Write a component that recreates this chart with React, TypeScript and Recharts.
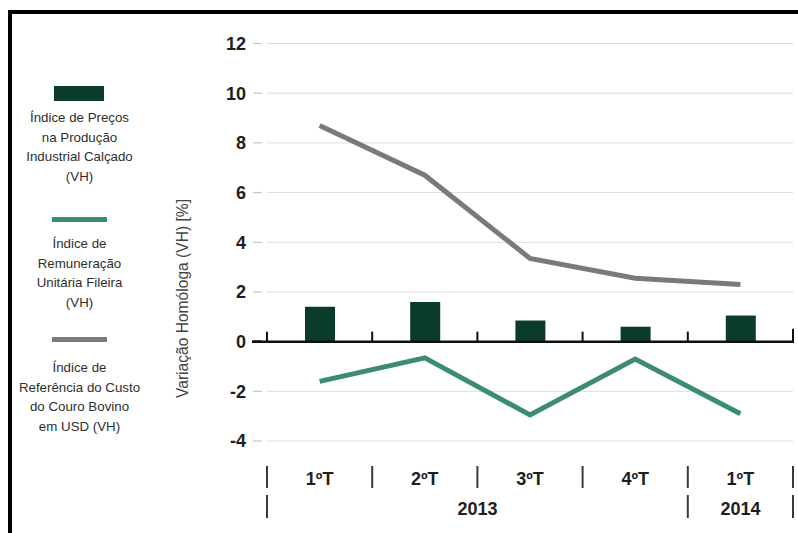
import React from 'react';
import {
  ComposedChart,
  Bar,
  Line,
  XAxis,
  YAxis,
  CartesianGrid,
  ReferenceLine,
  Legend,
  Label,
} from 'recharts';

// Quarterly year-on-year variation (%) — footwear sector indicators
const quarters = ['1ºT', '2ºT', '3ºT', '4ºT', '1ºT'];
const years = ['2013', '2013', '2013', '2013', '2014'];
const precosProducao = [1.4, 1.6, 0.85, 0.6, 1.05];
const remuneracaoFileira = [-1.6, -0.65, -2.95, -0.7, -2.9];
const custoCouro = [8.7, 6.7, 3.35, 2.55, 2.3];
const yTicks = [-4, -2, 0, 2, 4, 6, 8, 10, 12];

const legendPrecos = ['Índice de Preços', 'na Produção', 'Industrial Calçado', '(VH)'];
const legendRemuneracao = ['Índice de', 'Remuneração', 'Unitária Fileira', '(VH)'];
const legendCouro = ['Índice de', 'Referência do Custo', 'do Couro Bovino', 'em USD (VH)'];
const yTitle = 'Variação Homóloga (VH) [%]';

const data = quarters.map((q, i) => ({
  key: `${years[i]}-${i}`,
  quarter: q,
  year: years[i],
  precos: precosProducao[i],
  remuneracao: remuneracaoFileira[i],
  couro: custoCouro[i],
}));

const W = 798;
const H = 533;
const MARGIN = { top: 43.5, right: 5, bottom: 0, left: 207 };
const Y_AXIS_W = 60;
const PLOT_W = W - MARGIN.left - MARGIN.right - Y_AXIS_W;
const BAND = PLOT_W / data.length;

const FONT = '"Liberation Sans", Arial, Helvetica, sans-serif';
const BAR_COLOR = '#0b3c2b';
const GREEN = '#3d8b72';
const GREY = '#7a7a7a';
const INK = '#1e1e1e';
const SEP = '#3a3a3a';

const ValueTick = (props: any) => {
  const { x, y, payload } = props;
  const zero = payload.value === 0;
  return (
    <g>
      <line
        x1={x - 14}
        x2={x - 5}
        y1={y}
        y2={y}
        stroke={zero ? '#111' : '#c4c4c4'}
        strokeWidth={zero ? 2.5 : 1.2}
      />
      <text
        x={x - 21}
        y={y}
        dy="0.36em"
        textAnchor="end"
        fontFamily={FONT}
        fontSize={18}
        fontWeight="bold"
        fill={INK}
      >
        {payload.value}
      </text>
    </g>
  );
};

const QuarterTick = (props: any) => {
  const { x, y, index } = props;
  const left = x - BAND / 2;
  const last = index === data.length - 1;
  return (
    <g>
      <line x1={left} x2={left} y1={y + 25} y2={y + 47} stroke={SEP} strokeWidth={2} />
      {last && (
        <line x1={left + BAND} x2={left + BAND} y1={y + 25} y2={y + 47} stroke={SEP} strokeWidth={2} />
      )}
      <text
        x={x}
        y={y + 44}
        textAnchor="middle"
        fontFamily={FONT}
        fontSize={18}
        fontWeight="bold"
        fill={INK}
      >
        {data[index].quarter}
      </text>
    </g>
  );
};

const YearTick = (props: any) => {
  const { x, y, index } = props;
  const yr = data[index].year;
  const first = index === 0 || data[index - 1].year !== yr;
  const last = index === data.length - 1;
  const left = x - BAND / 2;
  let span = 0;
  for (let i = index; i < data.length && data[i].year === yr; i++) span++;
  return (
    <g>
      {first && <line x1={left} x2={left} y1={y + 2} y2={y + 25} stroke={SEP} strokeWidth={2} />}
      {last && (
        <line x1={left + BAND} x2={left + BAND} y1={y + 2} y2={y + 25} stroke={SEP} strokeWidth={2} />
      )}
      {first && (
        <text
          x={left + (span * BAND) / 2}
          y={y + 22}
          textAnchor="middle"
          fontFamily={FONT}
          fontSize={18}
          fontWeight="bold"
          fill={INK}
        >
          {yr}
        </text>
      )}
    </g>
  );
};

// zero baseline with small upward ticks at each quarter boundary
const ZeroBaseline = (props: any) => {
  const x1 = Number(props.x1);
  const x2 = Number(props.x2);
  const y = Number(props.y1);
  const n = data.length;
  const bw = (x2 - x1) / n;
  const marks = [];
  for (let i = 0; i <= n; i++) {
    const xi = x1 + i * bw;
    marks.push(
      <line key={i} x1={xi} x2={xi} y1={y} y2={y - (i === n ? 13 : 10)} stroke="#111" strokeWidth={2} />
    );
  }
  return (
    <g>
      <line x1={x1 - 15} x2={x2 + 1} y1={y} y2={y} stroke="#111" strokeWidth={2.5} />
      {marks}
    </g>
  );
};

const AxisTitle = (props: any) => {
  const vb = props.viewBox;
  const cx = vb.x - 24;
  const cy = vb.y + 255;
  return (
    <text
      x={cx}
      y={cy}
      dy="0.35em"
      textAnchor="middle"
      transform={`rotate(-90, ${cx}, ${cy})`}
      fontFamily={FONT}
      fontSize={15.6}
      fill="#444"
    >
      {yTitle}
    </text>
  );
};

const legendItems = [
  { lines: legendPrecos, color: BAR_COLOR, swatch: { left: 54, top: 86, width: 50, height: 15 }, textTop: 108 },
  { lines: legendRemuneracao, color: GREEN, swatch: { left: 52, top: 217, width: 55, height: 4.5 }, textTop: 234 },
  { lines: legendCouro, color: GREY, swatch: { left: 52, top: 337, width: 55, height: 4.5 }, textTop: 358 },
];

const LegendPanel = () => (
  <div style={{ position: 'relative', width: 160, height: 440, fontFamily: FONT }}>
    {legendItems.map((it, i) => (
      <React.Fragment key={i}>
        <div style={{ position: 'absolute', background: it.color, ...it.swatch }} />
        <div
          style={{
            position: 'absolute',
            left: 0,
            top: it.textTop,
            width: 159,
            textAlign: 'center',
            fontSize: 13.3,
            lineHeight: '19.5px',
            color: '#2e2e2e',
          }}
        >
          {it.lines.map((l, j) => (
            <div key={j}>{l}</div>
          ))}
        </div>
      </React.Fragment>
    ))}
  </div>
);

export default function App() {
  return (
    <div style={{ position: 'absolute', left: 0, top: 0, width: W, height: H, background: '#fff' }}>
      <div
        style={{
          position: 'absolute',
          left: 8,
          top: 10,
          width: W - 8,
          height: H - 10,
          borderTop: '4px solid #000',
          borderLeft: '4px solid #000',
          boxSizing: 'border-box',
        }}
      />
      <ComposedChart width={W} height={H} data={data} margin={MARGIN}>
        <CartesianGrid vertical={false} stroke="#dcdcdc" strokeWidth={1} />
        <XAxis
          xAxisId="q"
          dataKey="key"
          height={52}
          axisLine={false}
          tickLine={false}
          tickSize={0}
          tickMargin={0}
          interval={0}
          tick={<QuarterTick />}
        />
        <XAxis
          xAxisId="yr"
          dataKey="key"
          height={40}
          axisLine={false}
          tickLine={false}
          tickSize={0}
          tickMargin={0}
          interval={0}
          tick={<YearTick />}
        />
        <YAxis
          width={Y_AXIS_W}
          domain={[-4, 12]}
          ticks={yTicks}
          axisLine={false}
          tickLine={false}
          tickSize={0}
          tickMargin={0}
          interval={0}
          tick={<ValueTick />}
        >
          <Label content={<AxisTitle />} />
        </YAxis>
        <Bar xAxisId="q" dataKey="precos" fill={BAR_COLOR} barSize={30} isAnimationActive={false} />
        <Line
          xAxisId="q"
          dataKey="remuneracao"
          type="linear"
          stroke={GREEN}
          strokeWidth={5}
          dot={false}
          activeDot={false}
          isAnimationActive={false}
        />
        <Line
          xAxisId="q"
          dataKey="couro"
          type="linear"
          stroke={GREY}
          strokeWidth={5}
          dot={false}
          activeDot={false}
          isAnimationActive={false}
        />
        <ReferenceLine xAxisId="q" y={0} shape={<ZeroBaseline />} />
        <Legend
          layout="horizontal"
          verticalAlign="middle"
          align="center"
          wrapperStyle={{ left: 0, top: 0, width: 160, height: 440 }}
          content={<LegendPanel />}
        />
      </ComposedChart>
    </div>
  );
}
